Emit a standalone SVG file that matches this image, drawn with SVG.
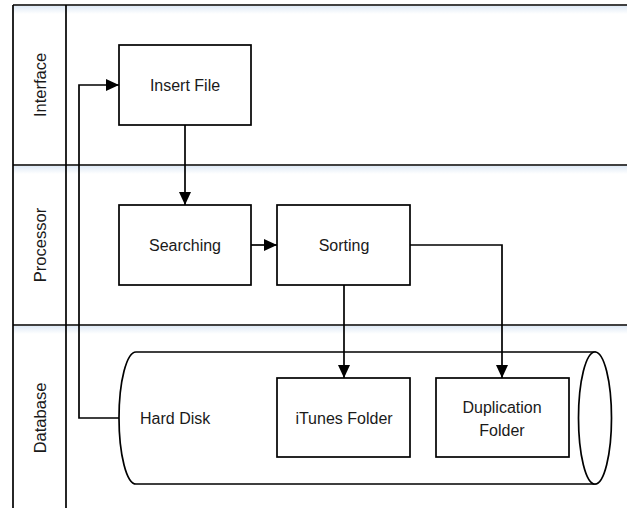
<svg xmlns="http://www.w3.org/2000/svg" width="627" height="508" viewBox="0 0 627 508">
<style>
.ln{stroke:#000;stroke-width:1.7;fill:none}
.box{fill:#fff;stroke:#000;stroke-width:1.7}
.t{font-family:"Liberation Sans",Arial,sans-serif;font-size:16px;fill:#1a1a1a;text-anchor:middle;dominant-baseline:central}
.lt{font-size:16.5px}
.c{stroke:#000;stroke-width:1.7;fill:none;marker-end:url(#ah)}
</style>
<defs>
<marker id="ah" viewBox="0 0 13 12" refX="13" refY="6" markerWidth="13" markerHeight="12" markerUnits="userSpaceOnUse" orient="auto">
<path d="M0,0 L13,6 L0,12 z" fill="#000"/>
</marker>
<linearGradient id="sh" x1="0" y1="0" x2="0" y2="1">
<stop offset="0" stop-color="#dce8f5" stop-opacity="0.9"/>
<stop offset="1" stop-color="#dce8f5" stop-opacity="0"/>
</linearGradient>
</defs>
<rect width="627" height="508" fill="#fff"/>
<g id="lanes">
<rect x="14" y="6" width="613" height="8" fill="url(#sh)"/>
<rect x="14" y="166" width="613" height="8" fill="url(#sh)"/>
<rect x="14" y="326" width="613" height="8" fill="url(#sh)"/>
<line class="ln" x1="13" y1="5" x2="627" y2="5"/>
<line class="ln" x1="13" y1="165" x2="627" y2="165"/>
<line class="ln" x1="13" y1="325" x2="627" y2="325"/>
<line class="ln" x1="13" y1="5" x2="13" y2="508"/>
<line class="ln" x1="66" y1="5" x2="66" y2="508"/>
<text class="t lt" transform="translate(40,85) rotate(-90)">Interface</text>
<text class="t lt" transform="translate(40,245) rotate(-90)">Processor</text>
<text class="t lt" transform="translate(40,418) rotate(-90)">Database</text>
</g>
<g id="hard-disk">
<path class="box" d="M136,352 L595,352 L595,484 L136,484 A17,66 0 0 1 136,352 Z"/>
<ellipse class="box" cx="595" cy="418" rx="16.5" ry="66"/>
<text class="t" x="140" y="418" style="text-anchor:start">Hard Disk</text>
</g>
<g id="insert-file">
<rect class="box" x="119" y="45" width="132" height="80"/>
<text class="t" x="185" y="85">Insert File</text>
</g>
<g id="searching">
<rect class="box" x="119" y="205" width="132" height="80"/>
<text class="t" x="185" y="245">Searching</text>
</g>
<g id="sorting">
<rect class="box" x="277" y="205" width="133" height="80"/>
<text class="t" x="344" y="245">Sorting</text>
</g>
<g id="itunes-folder">
<rect class="box" x="277" y="378" width="133" height="79"/>
<text class="t" x="344" y="418">iTunes Folder</text>
</g>
<g id="duplication-folder">
<rect class="box" x="436" y="378" width="133" height="79"/>
<text class="t" x="502" y="407">Duplication</text>
<text class="t" x="502" y="430">Folder</text>
</g>
<g id="connectors">
<path class="c" d="M185,125 L185,205"/>
<path class="c" d="M251,245 L277,245"/>
<path class="c" d="M344,285 L344,378"/>
<path class="c" d="M410,245 L502,245 L502,378"/>
<path class="c" d="M119,418 L79,418 L79,85 L119,85"/>
</g>
</svg>
